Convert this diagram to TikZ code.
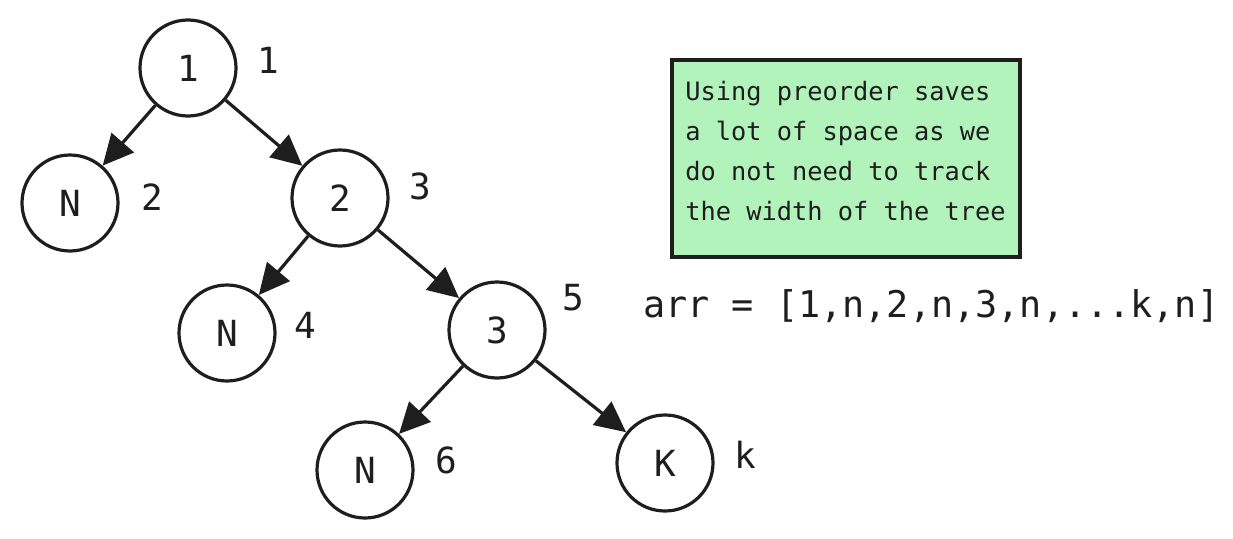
\documentclass[tikz,border=0pt]{standalone}
\usepackage{fontspec}
\setmonofont{DejaVu Sans Mono}
\usetikzlibrary{arrows.meta}
\definecolor{inkc}{HTML}{1E1E1E}
\definecolor{notegreen}{HTML}{B2F2BB}
\tikzset{
	treenode/.style={circle, draw=inkc, line width=2.4pt, minimum size=72pt, inner sep=0pt, text=inkc, font=\ttfamily\fontsize{27}{27}\selectfont},
	idxlabel/.style={inner sep=0.75pt, text=inkc, font=\ttfamily\fontsize{27}{27}\selectfont},
	treeedge/.style={draw=inkc, line width=2.4pt, -{Triangle[length=23pt,width=22pt]}},
}
\begin{document}
\begin{tikzpicture}[x=0.75pt,y=0.75pt,yscale=-1,xscale=1]
			\useasboundingbox (0,0) rectangle (1233,539);
			
			% Tree nodes
			\node [treenode] (n1) at (188,68) {1};
			\node [treenode] (nl1) at (70,203) {N};
			\node [treenode] (n2) at (340,198) {2};
			\node [treenode] (nl2) at (227,333) {N};
			\node [treenode] (n3) at (497,330) {3};
			\node [treenode] (nl3) at (365,470) {N};
			\node [treenode] (nk) at (665,463) {K};
			
			% Edges
			\draw [treeedge] (n1) -- (nl1);
			\draw [treeedge] (n1) -- (n2);
			\draw [treeedge] (n2) -- (nl2);
			\draw [treeedge] (n2) -- (n3);
			\draw [treeedge] (n3) -- (nl3);
			\draw [treeedge] (n3) -- (nk);
			
			% Text Node
			\node [idxlabel] (i1) at (268,60) {1};
			% Text Node
			\node [idxlabel] (i2) at (152,197) {2};
			% Text Node
			\node [idxlabel] (i3) at (420,186) {3};
			% Text Node
			\node [idxlabel] (i4) at (305,325) {4};
			% Text Node
			\node [idxlabel] (i5) at (573,298) {5};
			% Text Node
			\node [idxlabel] (i6) at (446,460) {6};
			% Text Node
			\node [idxlabel] (ik) at (745,455) {k};
			
			% Note box
			\draw [draw=inkc, fill=notegreen, line width=3pt] (672,60) rectangle (1020,257);
			\node [anchor=north west, inner sep=0pt, align=left, text=inkc, font=\ttfamily\fontsize{19}{30}\selectfont] (note) at (685,81) {Using preorder saves\\a lot of space as we\\do not need to track\\the width of the tree};
			
			% Text Node
			\node [anchor=base west, inner sep=0pt, text=inkc, font=\ttfamily\fontsize{27.6}{27.6}\selectfont] (arr) at (643,317) {arr = [1,n,2,n,3,n,...k,n]};
\end{tikzpicture}
\end{document}
